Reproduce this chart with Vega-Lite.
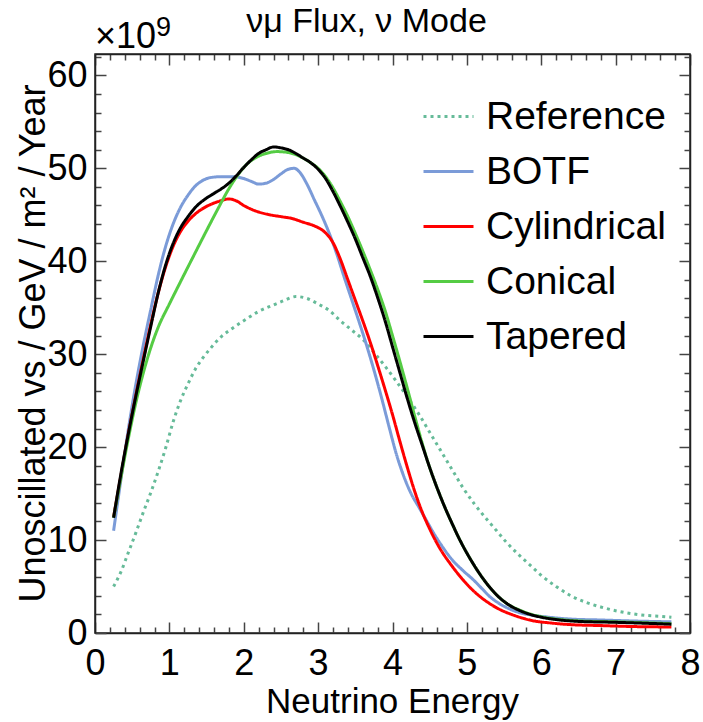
{
  "$schema": "https://vega.github.io/schema/vega-lite/v6.json",
  "width": 595,
  "height": 579,
  "autosize": "none",
  "padding": {"left": 95, "top": 54, "right": 13, "bottom": 89},
  "background": "white",
  "config": {
    "view": {"stroke": "#222222", "strokeWidth": 1.5},
    "font": "Liberation Sans",
    "title": {"fontSize": 34, "font": "Liberation Sans", "fontWeight": "normal", "color": "#000000"},
    "axis": {
      "domainColor": "#222222",
      "domainWidth": 1.5,
      "tickColor": "#444444",
      "tickWidth": 1.5,
      "grid": false,
      "labelFont": "Liberation Sans",
      "labelFontSize": 36,
      "labelColor": "#000000",
      "labelFlush": false,
      "labelOverlap": false,
      "labelBound": false,
      "titleFont": "Liberation Sans",
      "titleFontSize": 35,
      "titleFontWeight": "normal",
      "titleColor": "#000000"
    }
  },
  "title": {
    "text": "νμ Flux, ν Mode",
    "font": "Liberation Sans",
    "fontSize": 34,
    "fontWeight": "normal",
    "color": "#000000",
    "anchor": "middle",
    "frame": "group",
    "baseline": "alphabetic",
    "offset": -52,
    "dx": -26
  },
  "datasets": {
    "flux": [
      {"s": "Reference", "e": 0.25, "v": 5.0}, {"s": "Reference", "e": 0.35, "v": 6.6}, {"s": "Reference", "e": 0.45, "v": 8.7}, {"s": "Reference", "e": 0.55, "v": 10.8}, {"s": "Reference", "e": 0.65, "v": 13.0}, {"s": "Reference", "e": 0.75, "v": 15.1}, {"s": "Reference", "e": 0.85, "v": 17.4}, {"s": "Reference", "e": 0.95, "v": 19.9}, {"s": "Reference", "e": 1.05, "v": 22.7}, {"s": "Reference", "e": 1.15, "v": 25.0}, {"s": "Reference", "e": 1.25, "v": 26.8}, {"s": "Reference", "e": 1.35, "v": 28.4}, {"s": "Reference", "e": 1.45, "v": 29.6}, {"s": "Reference", "e": 1.55, "v": 30.6}, {"s": "Reference", "e": 1.7, "v": 31.9}, {"s": "Reference", "e": 1.85, "v": 32.8}, {"s": "Reference", "e": 2.0, "v": 33.6}, {"s": "Reference", "e": 2.2, "v": 34.6}, {"s": "Reference", "e": 2.4, "v": 35.3}, {"s": "Reference", "e": 2.55, "v": 35.8}, {"s": "Reference", "e": 2.7, "v": 36.2}, {"s": "Reference", "e": 2.85, "v": 36.0}, {"s": "Reference", "e": 3.0, "v": 35.4}, {"s": "Reference", "e": 3.15, "v": 34.7}, {"s": "Reference", "e": 3.3, "v": 33.6}, {"s": "Reference", "e": 3.45, "v": 32.6}, {"s": "Reference", "e": 3.6, "v": 31.6}, {"s": "Reference", "e": 3.75, "v": 30.2}, {"s": "Reference", "e": 3.9, "v": 28.7}, {"s": "Reference", "e": 4.05, "v": 27.1}, {"s": "Reference", "e": 4.2, "v": 25.4}, {"s": "Reference", "e": 4.35, "v": 23.6}, {"s": "Reference", "e": 4.5, "v": 21.6}, {"s": "Reference", "e": 4.65, "v": 19.6}, {"s": "Reference", "e": 4.8, "v": 17.6}, {"s": "Reference", "e": 4.95, "v": 15.6}, {"s": "Reference", "e": 5.1, "v": 13.9}, {"s": "Reference", "e": 5.25, "v": 12.4}, {"s": "Reference", "e": 5.4, "v": 11.0}, {"s": "Reference", "e": 5.55, "v": 9.6}, {"s": "Reference", "e": 5.7, "v": 8.4}, {"s": "Reference", "e": 5.85, "v": 7.3}, {"s": "Reference", "e": 6.0, "v": 6.2}, {"s": "Reference", "e": 6.2, "v": 5.0}, {"s": "Reference", "e": 6.4, "v": 4.0}, {"s": "Reference", "e": 6.6, "v": 3.3}, {"s": "Reference", "e": 6.8, "v": 2.8}, {"s": "Reference", "e": 7.0, "v": 2.4}, {"s": "Reference", "e": 7.2, "v": 2.1}, {"s": "Reference", "e": 7.4, "v": 1.9}, {"s": "Reference", "e": 7.6, "v": 1.8}, {"s": "Reference", "e": 7.75, "v": 1.7},

      {"s": "BOTF", "e": 0.25, "v": 11.0}, {"s": "BOTF", "e": 0.35, "v": 16.6}, {"s": "BOTF", "e": 0.45, "v": 22.0}, {"s": "BOTF", "e": 0.55, "v": 26.8}, {"s": "BOTF", "e": 0.65, "v": 31.0}, {"s": "BOTF", "e": 0.75, "v": 34.8}, {"s": "BOTF", "e": 0.85, "v": 38.5}, {"s": "BOTF", "e": 0.95, "v": 41.6}, {"s": "BOTF", "e": 1.05, "v": 44.0}, {"s": "BOTF", "e": 1.15, "v": 45.8}, {"s": "BOTF", "e": 1.25, "v": 47.1}, {"s": "BOTF", "e": 1.35, "v": 48.1}, {"s": "BOTF", "e": 1.45, "v": 48.7}, {"s": "BOTF", "e": 1.55, "v": 49.0}, {"s": "BOTF", "e": 1.7, "v": 49.1}, {"s": "BOTF", "e": 1.85, "v": 49.1}, {"s": "BOTF", "e": 2.0, "v": 48.9}, {"s": "BOTF", "e": 2.1, "v": 48.6}, {"s": "BOTF", "e": 2.2, "v": 48.3}, {"s": "BOTF", "e": 2.3, "v": 48.4}, {"s": "BOTF", "e": 2.4, "v": 48.8}, {"s": "BOTF", "e": 2.5, "v": 49.4}, {"s": "BOTF", "e": 2.6, "v": 49.9}, {"s": "BOTF", "e": 2.68, "v": 50.0}, {"s": "BOTF", "e": 2.75, "v": 49.6}, {"s": "BOTF", "e": 2.85, "v": 48.3}, {"s": "BOTF", "e": 2.95, "v": 46.6}, {"s": "BOTF", "e": 3.05, "v": 44.9}, {"s": "BOTF", "e": 3.15, "v": 43.0}, {"s": "BOTF", "e": 3.25, "v": 40.8}, {"s": "BOTF", "e": 3.35, "v": 38.3}, {"s": "BOTF", "e": 3.45, "v": 35.9}, {"s": "BOTF", "e": 3.55, "v": 33.5}, {"s": "BOTF", "e": 3.65, "v": 31.0}, {"s": "BOTF", "e": 3.75, "v": 28.3}, {"s": "BOTF", "e": 3.85, "v": 25.4}, {"s": "BOTF", "e": 3.95, "v": 22.3}, {"s": "BOTF", "e": 4.05, "v": 19.3}, {"s": "BOTF", "e": 4.15, "v": 16.9}, {"s": "BOTF", "e": 4.25, "v": 15.0}, {"s": "BOTF", "e": 4.35, "v": 13.6}, {"s": "BOTF", "e": 4.45, "v": 12.2}, {"s": "BOTF", "e": 4.55, "v": 10.8}, {"s": "BOTF", "e": 4.67, "v": 9.3}, {"s": "BOTF", "e": 4.8, "v": 7.9}, {"s": "BOTF", "e": 4.95, "v": 6.7}, {"s": "BOTF", "e": 5.09, "v": 5.7}, {"s": "BOTF", "e": 5.2, "v": 4.8}, {"s": "BOTF", "e": 5.31, "v": 3.9}, {"s": "BOTF", "e": 5.45, "v": 3.1}, {"s": "BOTF", "e": 5.6, "v": 2.5}, {"s": "BOTF", "e": 5.75, "v": 2.1}, {"s": "BOTF", "e": 5.9, "v": 1.9}, {"s": "BOTF", "e": 6.1, "v": 1.7}, {"s": "BOTF", "e": 6.4, "v": 1.5}, {"s": "BOTF", "e": 6.8, "v": 1.4}, {"s": "BOTF", "e": 7.2, "v": 1.3}, {"s": "BOTF", "e": 7.75, "v": 1.2},

      {"s": "Cylindrical", "e": 0.25, "v": 12.5}, {"s": "Cylindrical", "e": 0.35, "v": 17.0}, {"s": "Cylindrical", "e": 0.45, "v": 21.5}, {"s": "Cylindrical", "e": 0.55, "v": 25.6}, {"s": "Cylindrical", "e": 0.65, "v": 29.5}, {"s": "Cylindrical", "e": 0.75, "v": 33.2}, {"s": "Cylindrical", "e": 0.85, "v": 36.6}, {"s": "Cylindrical", "e": 0.95, "v": 39.4}, {"s": "Cylindrical", "e": 1.05, "v": 41.6}, {"s": "Cylindrical", "e": 1.15, "v": 43.2}, {"s": "Cylindrical", "e": 1.25, "v": 44.3}, {"s": "Cylindrical", "e": 1.35, "v": 45.1}, {"s": "Cylindrical", "e": 1.5, "v": 45.9}, {"s": "Cylindrical", "e": 1.65, "v": 46.4}, {"s": "Cylindrical", "e": 1.8, "v": 46.7}, {"s": "Cylindrical", "e": 1.9, "v": 46.5}, {"s": "Cylindrical", "e": 2.0, "v": 46.0}, {"s": "Cylindrical", "e": 2.1, "v": 45.6}, {"s": "Cylindrical", "e": 2.2, "v": 45.3}, {"s": "Cylindrical", "e": 2.35, "v": 45.0}, {"s": "Cylindrical", "e": 2.5, "v": 44.8}, {"s": "Cylindrical", "e": 2.65, "v": 44.6}, {"s": "Cylindrical", "e": 2.8, "v": 44.2}, {"s": "Cylindrical", "e": 2.95, "v": 43.8}, {"s": "Cylindrical", "e": 3.08, "v": 43.2}, {"s": "Cylindrical", "e": 3.2, "v": 42.0}, {"s": "Cylindrical", "e": 3.3, "v": 40.2}, {"s": "Cylindrical", "e": 3.4, "v": 38.0}, {"s": "Cylindrical", "e": 3.5, "v": 35.8}, {"s": "Cylindrical", "e": 3.6, "v": 33.6}, {"s": "Cylindrical", "e": 3.7, "v": 31.3}, {"s": "Cylindrical", "e": 3.8, "v": 28.8}, {"s": "Cylindrical", "e": 3.9, "v": 26.2}, {"s": "Cylindrical", "e": 4.0, "v": 23.5}, {"s": "Cylindrical", "e": 4.1, "v": 20.6}, {"s": "Cylindrical", "e": 4.2, "v": 17.8}, {"s": "Cylindrical", "e": 4.3, "v": 15.2}, {"s": "Cylindrical", "e": 4.4, "v": 13.0}, {"s": "Cylindrical", "e": 4.5, "v": 11.2}, {"s": "Cylindrical", "e": 4.63, "v": 9.2}, {"s": "Cylindrical", "e": 4.8, "v": 7.2}, {"s": "Cylindrical", "e": 4.95, "v": 5.7}, {"s": "Cylindrical", "e": 5.08, "v": 4.6}, {"s": "Cylindrical", "e": 5.18, "v": 3.9}, {"s": "Cylindrical", "e": 5.3, "v": 3.2}, {"s": "Cylindrical", "e": 5.45, "v": 2.5}, {"s": "Cylindrical", "e": 5.6, "v": 2.0}, {"s": "Cylindrical", "e": 5.75, "v": 1.6}, {"s": "Cylindrical", "e": 5.9, "v": 1.3}, {"s": "Cylindrical", "e": 6.1, "v": 1.1}, {"s": "Cylindrical", "e": 6.4, "v": 0.9}, {"s": "Cylindrical", "e": 6.8, "v": 0.8}, {"s": "Cylindrical", "e": 7.2, "v": 0.7}, {"s": "Cylindrical", "e": 7.75, "v": 0.65},

      {"s": "Conical", "e": 0.25, "v": 12.4}, {"s": "Conical", "e": 0.35, "v": 16.8}, {"s": "Conical", "e": 0.45, "v": 21.0}, {"s": "Conical", "e": 0.55, "v": 24.8}, {"s": "Conical", "e": 0.65, "v": 28.0}, {"s": "Conical", "e": 0.75, "v": 30.7}, {"s": "Conical", "e": 0.85, "v": 32.9}, {"s": "Conical", "e": 1.0, "v": 35.4}, {"s": "Conical", "e": 1.15, "v": 37.8}, {"s": "Conical", "e": 1.34, "v": 40.8}, {"s": "Conical", "e": 1.5, "v": 43.3}, {"s": "Conical", "e": 1.65, "v": 45.6}, {"s": "Conical", "e": 1.8, "v": 47.8}, {"s": "Conical", "e": 1.95, "v": 49.6}, {"s": "Conical", "e": 2.05, "v": 50.5}, {"s": "Conical", "e": 2.15, "v": 51.1}, {"s": "Conical", "e": 2.3, "v": 51.6}, {"s": "Conical", "e": 2.45, "v": 51.8}, {"s": "Conical", "e": 2.6, "v": 51.7}, {"s": "Conical", "e": 2.75, "v": 51.3}, {"s": "Conical", "e": 2.9, "v": 50.6}, {"s": "Conical", "e": 3.0, "v": 50.0}, {"s": "Conical", "e": 3.1, "v": 49.1}, {"s": "Conical", "e": 3.2, "v": 47.9}, {"s": "Conical", "e": 3.3, "v": 46.4}, {"s": "Conical", "e": 3.4, "v": 44.8}, {"s": "Conical", "e": 3.5, "v": 43.0}, {"s": "Conical", "e": 3.6, "v": 41.1}, {"s": "Conical", "e": 3.7, "v": 39.1}, {"s": "Conical", "e": 3.8, "v": 37.0}, {"s": "Conical", "e": 3.9, "v": 34.7}, {"s": "Conical", "e": 4.0, "v": 32.0}, {"s": "Conical", "e": 4.1, "v": 29.2}, {"s": "Conical", "e": 4.2, "v": 26.3}, {"s": "Conical", "e": 4.3, "v": 23.3}, {"s": "Conical", "e": 4.4, "v": 20.4}, {"s": "Conical", "e": 4.5, "v": 17.8}, {"s": "Conical", "e": 4.6, "v": 15.6}, {"s": "Conical", "e": 4.7, "v": 13.6}, {"s": "Conical", "e": 4.8, "v": 11.8}, {"s": "Conical", "e": 4.9, "v": 10.1}, {"s": "Conical", "e": 5.0, "v": 8.6}, {"s": "Conical", "e": 5.12, "v": 7.0}, {"s": "Conical", "e": 5.25, "v": 5.5}, {"s": "Conical", "e": 5.4, "v": 4.1}, {"s": "Conical", "e": 5.55, "v": 3.1}, {"s": "Conical", "e": 5.7, "v": 2.5}, {"s": "Conical", "e": 5.85, "v": 2.05}, {"s": "Conical", "e": 6.0, "v": 1.75}, {"s": "Conical", "e": 6.25, "v": 1.45}, {"s": "Conical", "e": 6.5, "v": 1.3}, {"s": "Conical", "e": 7.0, "v": 1.2}, {"s": "Conical", "e": 7.4, "v": 1.1}, {"s": "Conical", "e": 7.75, "v": 1.0},

      {"s": "Tapered", "e": 0.25, "v": 12.4}, {"s": "Tapered", "e": 0.35, "v": 17.2}, {"s": "Tapered", "e": 0.45, "v": 21.5}, {"s": "Tapered", "e": 0.55, "v": 25.5}, {"s": "Tapered", "e": 0.65, "v": 29.3}, {"s": "Tapered", "e": 0.75, "v": 33.0}, {"s": "Tapered", "e": 0.85, "v": 36.6}, {"s": "Tapered", "e": 0.95, "v": 39.6}, {"s": "Tapered", "e": 1.05, "v": 41.9}, {"s": "Tapered", "e": 1.15, "v": 43.6}, {"s": "Tapered", "e": 1.25, "v": 44.8}, {"s": "Tapered", "e": 1.35, "v": 45.8}, {"s": "Tapered", "e": 1.5, "v": 46.8}, {"s": "Tapered", "e": 1.6, "v": 47.3}, {"s": "Tapered", "e": 1.7, "v": 47.8}, {"s": "Tapered", "e": 1.8, "v": 48.4}, {"s": "Tapered", "e": 1.9, "v": 49.2}, {"s": "Tapered", "e": 2.0, "v": 50.1}, {"s": "Tapered", "e": 2.1, "v": 50.9}, {"s": "Tapered", "e": 2.2, "v": 51.6}, {"s": "Tapered", "e": 2.3, "v": 52.0}, {"s": "Tapered", "e": 2.4, "v": 52.3}, {"s": "Tapered", "e": 2.5, "v": 52.2}, {"s": "Tapered", "e": 2.6, "v": 52.0}, {"s": "Tapered", "e": 2.7, "v": 51.6}, {"s": "Tapered", "e": 2.8, "v": 51.1}, {"s": "Tapered", "e": 2.9, "v": 50.6}, {"s": "Tapered", "e": 3.0, "v": 49.9}, {"s": "Tapered", "e": 3.1, "v": 48.9}, {"s": "Tapered", "e": 3.2, "v": 47.5}, {"s": "Tapered", "e": 3.3, "v": 45.9}, {"s": "Tapered", "e": 3.4, "v": 44.2}, {"s": "Tapered", "e": 3.5, "v": 42.4}, {"s": "Tapered", "e": 3.6, "v": 40.4}, {"s": "Tapered", "e": 3.7, "v": 38.4}, {"s": "Tapered", "e": 3.8, "v": 36.1}, {"s": "Tapered", "e": 3.9, "v": 33.6}, {"s": "Tapered", "e": 4.0, "v": 30.8}, {"s": "Tapered", "e": 4.1, "v": 28.0}, {"s": "Tapered", "e": 4.2, "v": 25.2}, {"s": "Tapered", "e": 4.3, "v": 22.6}, {"s": "Tapered", "e": 4.4, "v": 20.2}, {"s": "Tapered", "e": 4.5, "v": 17.8}, {"s": "Tapered", "e": 4.6, "v": 15.6}, {"s": "Tapered", "e": 4.7, "v": 13.6}, {"s": "Tapered", "e": 4.8, "v": 11.8}, {"s": "Tapered", "e": 4.9, "v": 10.1}, {"s": "Tapered", "e": 5.0, "v": 8.6}, {"s": "Tapered", "e": 5.12, "v": 7.0}, {"s": "Tapered", "e": 5.25, "v": 5.5}, {"s": "Tapered", "e": 5.4, "v": 4.1}, {"s": "Tapered", "e": 5.55, "v": 3.1}, {"s": "Tapered", "e": 5.7, "v": 2.45}, {"s": "Tapered", "e": 5.85, "v": 2.0}, {"s": "Tapered", "e": 6.0, "v": 1.7}, {"s": "Tapered", "e": 6.25, "v": 1.4}, {"s": "Tapered", "e": 6.5, "v": 1.25}, {"s": "Tapered", "e": 7.0, "v": 1.15}, {"s": "Tapered", "e": 7.4, "v": 1.05}, {"s": "Tapered", "e": 7.75, "v": 0.95}
    ]
  },
  "layer": [
    {
      "data": {"name": "flux"},
      "mark": {"type": "line", "strokeWidth": 3, "interpolate": "monotone", "strokeCap": "butt"},
      "encoding": {
        "x": {
          "field": "e", "type": "quantitative",
          "scale": {"domain": [0, 8], "nice": false, "zero": false},
          "axis": {
            "orient": "bottom",
            "values": [0,0.2,0.4,0.6,0.8,1,1.2,1.4,1.6,1.8,2,2.2,2.4,2.6,2.8,3,3.2,3.4,3.6,3.8,4,4.2,4.4,4.6,4.8,5,5.2,5.4,5.6,5.8,6,6.2,6.4,6.6,6.8,7,7.2,7.4,7.6,7.8,8],
            "labelExpr": "abs(datum.value - round(datum.value)) < 0.001 ? format(datum.value, 'd') : ''",
            "tickSize": {"condition": {"test": "abs(datum.value - round(datum.value)) < 0.001", "value": -11}, "value": -6},
            "labelPadding": 24,
            "labelFontSize": 36,
            "title": "Neutrino Energy",
            "titleBaseline": "alphabetic",
            "titleX": 297,
            "titleY": 79
          }
        },
        "y": {
          "field": "v", "type": "quantitative",
          "scale": {"domain": [0, 62.3], "nice": false, "zero": false},
          "axis": {
            "orient": "left",
            "values": [0,2,4,6,8,10,12,14,16,18,20,22,24,26,28,30,32,34,36,38,40,42,44,46,48,50,52,54,56,58,60,62],
            "labelExpr": "datum.value % 10 === 0 ? datum.label : ''",
            "tickSize": {"condition": {"test": "datum.value % 10 === 0", "value": -11}, "value": -6},
            "labelPadding": 19,
            "labelFontSize": 36,
            "title": "Unoscillated vs /  GeV / m² / Year",
            "titleFontSize": 36,
            "titleAngle": 270,
            "titleBaseline": "alphabetic",
            "titleAlign": "center",
            "titleX": -51,
            "titleY": 289
          }
        },
        "color": {
          "field": "s", "type": "nominal",
          "scale": {"domain": ["Reference", "BOTF", "Cylindrical", "Conical", "Tapered"], "range": ["#66bb99", "#7b9bd8", "#ff0000", "#55cc44", "#000000"]},
          "legend": {
            "orient": "none", "legendX": 327, "legendY": 36, "title": null,
            "labelFont": "Liberation Sans", "labelFontSize": 39, "labelColor": "#000000", "labelLimit": 400,
            "symbolType": "stroke", "symbolSize": 2500, "symbolStrokeWidth": 3,
            "labelOffset": 11, "rowPadding": 8, "padding": 0
          }
        },
        "strokeDash": {
          "field": "s", "type": "nominal",
          "scale": {"domain": ["Reference", "BOTF", "Cylindrical", "Conical", "Tapered"], "range": [[3, 4], [1, 0], [1, 0], [1, 0], [1, 0]]},
          "legend": {
            "orient": "none", "legendX": 327, "legendY": 36, "title": null,
            "labelFont": "Liberation Sans", "labelFontSize": 39, "labelColor": "#000000", "labelLimit": 400,
            "symbolType": "stroke", "symbolSize": 2500, "symbolStrokeWidth": 3,
            "labelOffset": 11, "rowPadding": 8, "padding": 0
          }
        }
      }
    },
    {
      "data": {"values": [{"e": 0, "v": 0}]},
      "mark": {"type": "point", "opacity": 0},
      "encoding": {
        "x": {
          "field": "e", "type": "quantitative",
          "scale": {"domain": [0, 8], "nice": false, "zero": false},
          "axis": {
            "orient": "top",
            "values": [0,0.2,0.4,0.6,0.8,1,1.2,1.4,1.6,1.8,2,2.2,2.4,2.6,2.8,3,3.2,3.4,3.6,3.8,4,4.2,4.4,4.6,4.8,5,5.2,5.4,5.6,5.8,6,6.2,6.4,6.6,6.8,7,7.2,7.4,7.6,7.8,8],
            "labels": false,
            "tickSize": {"condition": {"test": "abs(datum.value - round(datum.value)) < 0.001", "value": -11}, "value": -6},
            "title": null
          }
        },
        "y": {
          "field": "v", "type": "quantitative",
          "scale": {"domain": [0, 62.3], "nice": false, "zero": false},
          "axis": {
            "orient": "right",
            "values": [0,2,4,6,8,10,12,14,16,18,20,22,24,26,28,30,32,34,36,38,40,42,44,46,48,50,52,54,56,58,60,62],
            "labels": false,
            "tickSize": {"condition": {"test": "datum.value % 10 === 0", "value": -11}, "value": -6},
            "title": null
          }
        }
      }
    },
    {
      "data": {"values": [{"t": "×10"}]},
      "mark": {"type": "text", "align": "left", "baseline": "alphabetic", "dy": -6, "fontSize": 36, "font": "Liberation Sans", "color": "#000000"},
      "encoding": {
        "x": {"datum": 0, "type": "quantitative", "axis": null},
        "y": {"datum": 62.3, "type": "quantitative", "axis": null},
        "text": {"field": "t"}
      }
    },
    {
      "data": {"values": [{"t": "9"}]},
      "mark": {"type": "text", "align": "left", "baseline": "alphabetic", "dx": 61, "dy": -18, "fontSize": 27, "font": "Liberation Sans", "color": "#000000"},
      "encoding": {
        "x": {"datum": 0, "type": "quantitative", "axis": null},
        "y": {"datum": 62.3, "type": "quantitative", "axis": null},
        "text": {"field": "t"}
      }
    }
  ],
  "resolve": {"axis": {"x": "independent", "y": "independent"}}
}
